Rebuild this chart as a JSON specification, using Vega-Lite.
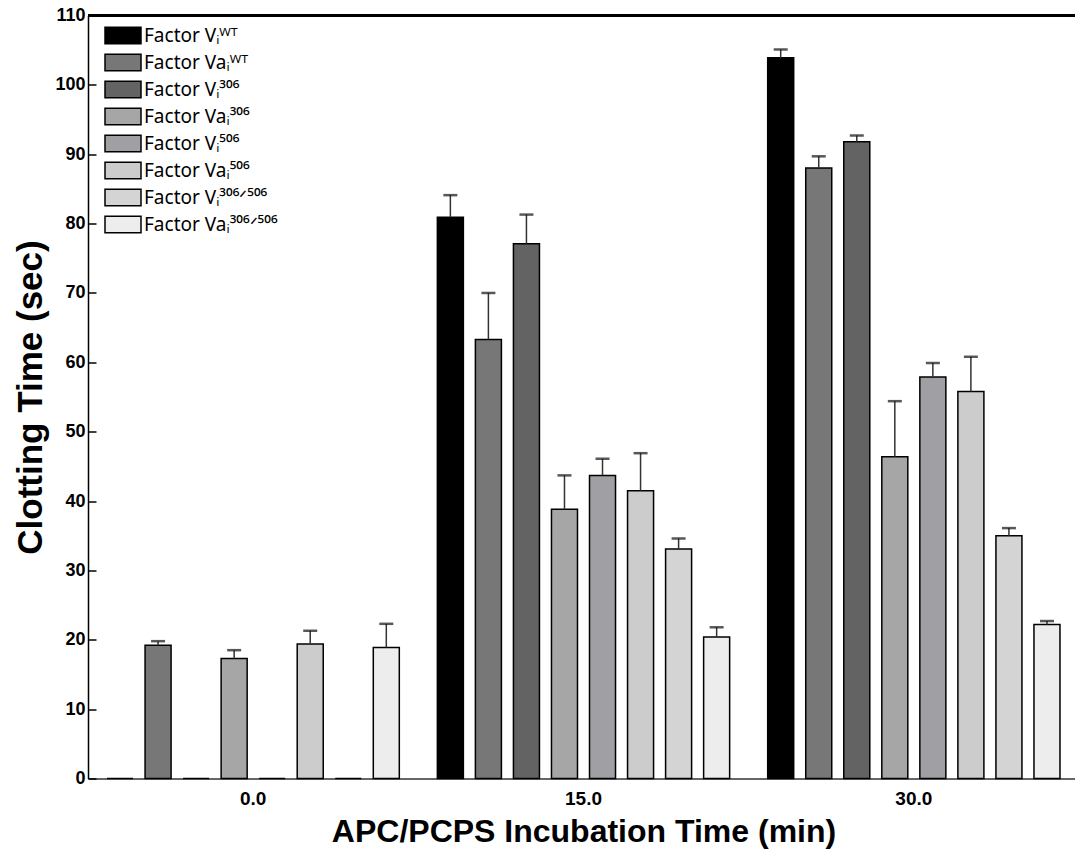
{
  "$schema": "https://vega.github.io/schema/vega-lite/v6.json",
  "width": 991,
  "height": 763,
  "autosize": {"type": "none"},
  "padding": {"left": 88, "top": 15.5, "right": 0, "bottom": 73.5},
  "background": "white",
  "config": {
    "font": "Liberation Sans",
    "view": {"stroke": null},
    "legend": {
      "orient": "none",
      "legendX": 24,
      "legendY": 9,
      "padding": 0,
      "title": null,
      "labelFont": "Noto Sans",
      "labelFontSize": 19,
      "labelColor": "#000",
      "labelOffset": 10,
      "labelLimit": 300,
      "symbolType": "M-1.8,-0.83H1.8V0.83H-1.8Z",
      "symbolSize": 400,
      "symbolStrokeColor": "#000",
      "symbolStrokeWidth": 1.5,
      "rowPadding": 3
    }
  },
  "data": {
    "values": [
      {"time": "0.0", "series": "Factor Vᵢᵂᵀ", "value": 0, "upper": null},
      {"time": "0.0", "series": "Factor Vaᵢᵂᵀ", "value": 19.2, "upper": 19.8},
      {"time": "0.0", "series": "Factor Vᵢ³⁰⁶", "value": 0, "upper": null},
      {"time": "0.0", "series": "Factor Vaᵢ³⁰⁶", "value": 17.3, "upper": 18.5},
      {"time": "0.0", "series": "Factor Vᵢ⁵⁰⁶", "value": 0, "upper": null},
      {"time": "0.0", "series": "Factor Vaᵢ⁵⁰⁶", "value": 19.4, "upper": 21.3},
      {"time": "0.0", "series": "Factor Vᵢ³⁰⁶ᐟ⁵⁰⁶", "value": 0, "upper": null},
      {"time": "0.0", "series": "Factor Vaᵢ³⁰⁶ᐟ⁵⁰⁶", "value": 18.9, "upper": 22.3},
      {"time": "15.0", "series": "Factor Vᵢᵂᵀ", "value": 80.9, "upper": 84.1},
      {"time": "15.0", "series": "Factor Vaᵢᵂᵀ", "value": 63.3, "upper": 70.0},
      {"time": "15.0", "series": "Factor Vᵢ³⁰⁶", "value": 77.1, "upper": 81.3},
      {"time": "15.0", "series": "Factor Vaᵢ³⁰⁶", "value": 38.8, "upper": 43.7},
      {"time": "15.0", "series": "Factor Vᵢ⁵⁰⁶", "value": 43.7, "upper": 46.1},
      {"time": "15.0", "series": "Factor Vaᵢ⁵⁰⁶", "value": 41.5, "upper": 46.9},
      {"time": "15.0", "series": "Factor Vᵢ³⁰⁶ᐟ⁵⁰⁶", "value": 33.1, "upper": 34.6},
      {"time": "15.0", "series": "Factor Vaᵢ³⁰⁶ᐟ⁵⁰⁶", "value": 20.4, "upper": 21.8},
      {"time": "30.0", "series": "Factor Vᵢᵂᵀ", "value": 103.9, "upper": 105.1},
      {"time": "30.0", "series": "Factor Vaᵢᵂᵀ", "value": 88.0, "upper": 89.7},
      {"time": "30.0", "series": "Factor Vᵢ³⁰⁶", "value": 91.8, "upper": 92.7},
      {"time": "30.0", "series": "Factor Vaᵢ³⁰⁶", "value": 46.4, "upper": 54.4},
      {"time": "30.0", "series": "Factor Vᵢ⁵⁰⁶", "value": 57.9, "upper": 59.9},
      {"time": "30.0", "series": "Factor Vaᵢ⁵⁰⁶", "value": 55.8, "upper": 60.8},
      {"time": "30.0", "series": "Factor Vᵢ³⁰⁶ᐟ⁵⁰⁶", "value": 35.0, "upper": 36.1},
      {"time": "30.0", "series": "Factor Vaᵢ³⁰⁶ᐟ⁵⁰⁶", "value": 22.2, "upper": 22.7}
    ]
  },
  "layer": [
    {
      "mark": {"type": "bar", "stroke": "#000", "strokeWidth": 1.5},
      "encoding": {
        "x": {
          "field": "time",
          "type": "nominal",
          "sort": ["0.0", "15.0", "30.0"],
          "scale": {"paddingInner": 0, "paddingOuter": 0},
          "title": "APC/PCPS Incubation Time (min)",
          "axis": {
            "labelAngle": 0,
            "labelFont": "Liberation Sans",
            "labelFontSize": 19,
            "labelFontWeight": "bold",
            "labelColor": "#000",
            "labelPadding": 11,
            "ticks": false,
            "domainColor": "#666",
            "domainWidth": 2,
            "titleFont": "Liberation Sans",
            "titleFontSize": 32,
            "titleFontWeight": "bold",
            "titleColor": "#000",
            "titlePadding": 8
          }
        },
        "xOffset": {
          "field": "series",
          "type": "nominal",
          "sort": ["Factor Vᵢᵂᵀ", "Factor Vaᵢᵂᵀ", "Factor Vᵢ³⁰⁶", "Factor Vaᵢ³⁰⁶", "Factor Vᵢ⁵⁰⁶", "Factor Vaᵢ⁵⁰⁶", "Factor Vᵢ³⁰⁶ᐟ⁵⁰⁶", "Factor Vaᵢ³⁰⁶ᐟ⁵⁰⁶"],
          "scale": {"paddingInner": 0.316, "paddingOuter": 0.5}
        },
        "y": {
          "field": "value",
          "type": "quantitative",
          "scale": {"domain": [0, 110], "nice": false, "zero": true},
          "title": "Clotting Time (sec)",
          "axis": {
            "values": [0, 10, 20, 30, 40, 50, 60, 70, 80, 90, 100, 110],
            "grid": false,
            "labelFont": "Liberation Sans",
            "labelFontSize": 18,
            "labelFontWeight": "bold",
            "labelColor": "#000",
            "labelPadding": 11,
            "tickSize": -8,
            "tickColor": "#000",
            "tickWidth": 1.5,
            "domainColor": "#000",
            "domainWidth": 1.5,
            "titleFont": "Liberation Sans",
            "titleFontSize": 35,
            "titleFontWeight": "bold",
            "titleColor": "#000",
            "titlePadding": 6
          }
        },
        "color": {
          "field": "series",
          "type": "nominal",
          "sort": ["Factor Vᵢᵂᵀ", "Factor Vaᵢᵂᵀ", "Factor Vᵢ³⁰⁶", "Factor Vaᵢ³⁰⁶", "Factor Vᵢ⁵⁰⁶", "Factor Vaᵢ⁵⁰⁶", "Factor Vᵢ³⁰⁶ᐟ⁵⁰⁶", "Factor Vaᵢ³⁰⁶ᐟ⁵⁰⁶"],
          "scale": {
            "domain": ["Factor Vᵢᵂᵀ", "Factor Vaᵢᵂᵀ", "Factor Vᵢ³⁰⁶", "Factor Vaᵢ³⁰⁶", "Factor Vᵢ⁵⁰⁶", "Factor Vaᵢ⁵⁰⁶", "Factor Vᵢ³⁰⁶ᐟ⁵⁰⁶", "Factor Vaᵢ³⁰⁶ᐟ⁵⁰⁶"],
            "range": ["#000000", "#777777", "#636363", "#a6a6a6", "#a0a0a4", "#cccccc", "#d4d4d4", "#ededed"]
          },
          "legend": {}
        }
      }
    },
    {
      "transform": [{"filter": "datum.upper != null"}],
      "mark": {"type": "rule", "color": "#333", "strokeWidth": 1.5},
      "encoding": {
        "x": {"field": "time", "type": "nominal", "sort": ["0.0", "15.0", "30.0"]},
        "xOffset": {
          "field": "series",
          "type": "nominal",
          "sort": ["Factor Vᵢᵂᵀ", "Factor Vaᵢᵂᵀ", "Factor Vᵢ³⁰⁶", "Factor Vaᵢ³⁰⁶", "Factor Vᵢ⁵⁰⁶", "Factor Vaᵢ⁵⁰⁶", "Factor Vᵢ³⁰⁶ᐟ⁵⁰⁶", "Factor Vaᵢ³⁰⁶ᐟ⁵⁰⁶"]
        },
        "y": {"field": "value", "type": "quantitative", "title": "Clotting Time (sec)"},
        "y2": {"field": "upper"}
      }
    },
    {
      "transform": [{"filter": "datum.upper != null"}],
      "mark": {"type": "tick", "color": "#111", "thickness": 2.5, "size": 14},
      "encoding": {
        "x": {"field": "time", "type": "nominal", "sort": ["0.0", "15.0", "30.0"]},
        "xOffset": {
          "field": "series",
          "type": "nominal",
          "sort": ["Factor Vᵢᵂᵀ", "Factor Vaᵢᵂᵀ", "Factor Vᵢ³⁰⁶", "Factor Vaᵢ³⁰⁶", "Factor Vᵢ⁵⁰⁶", "Factor Vaᵢ⁵⁰⁶", "Factor Vᵢ³⁰⁶ᐟ⁵⁰⁶", "Factor Vaᵢ³⁰⁶ᐟ⁵⁰⁶"]
        },
        "y": {"field": "upper", "type": "quantitative", "title": "Clotting Time (sec)"}
      }
    },
    {
      "mark": {"type": "rule", "color": "#000", "strokeWidth": 2},
      "encoding": {
        "y": {"datum": 110, "type": "quantitative"}
      }
    }
  ]
}
